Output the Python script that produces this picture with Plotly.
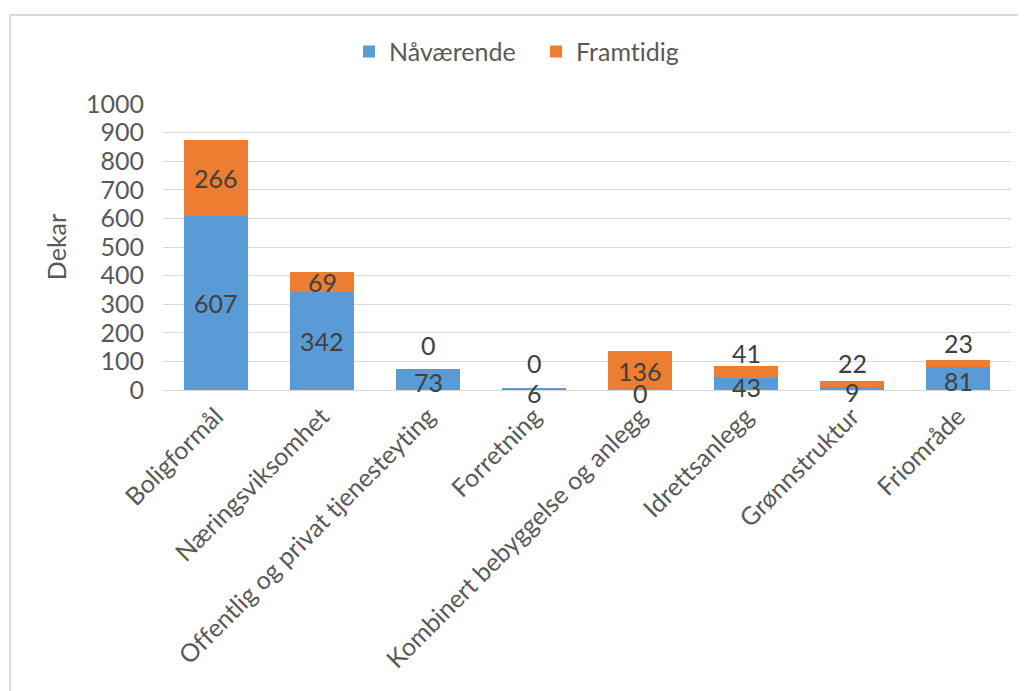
import plotly.graph_objects as go

# data
kategorier = ["Boligformål", "Næringsviksomhet", "Offentlig og privat tjenesteyting",
              "Forretning", "Kombinert bebyggelse og anlegg", "Idrettsanlegg",
              "Grønnstruktur", "Friområde"]
naavaerende = [607, 342, 73, 6, 0, 43, 9, 81]
framtidig = [266, 69, 0, 0, 136, 41, 22, 23]

# manual label nudges (pixels) like in the original excel chart
fram_shift = [0, 0, 24, 25, 0, 19, 21, 21]
naa_shift = [0, 0, -2, -4, -3, -3, -3, -3]

blaa = "#5B9BD5"
oransje = "#ED7D31"
font = "Lato"
fs = 25


def nolig(s):
    # Lato draws "ti" as a ligature, switch that off
    return "<span style='font-variant-ligatures:none'>" + s + "</span>"


fig = go.Figure()
fig.add_trace(go.Bar(x=kategorier, y=naavaerende, name="Nåværende",
                     marker_color=blaa, marker_line_width=0))
fig.add_trace(go.Bar(x=kategorier, y=framtidig, name=nolig("Framtidig"),
                     marker_color=oransje, marker_line_width=0))

# data labels
for i, k in enumerate(kategorier):
    fig.add_annotation(x=k, y=naavaerende[i] / 2, text=str(naavaerende[i]),
                       showarrow=False, yshift=naa_shift[i],
                       font=dict(family=font, size=fs, color="#404040"))
    fig.add_annotation(x=k, y=naavaerende[i] + framtidig[i] / 2, text=str(framtidig[i]),
                       showarrow=False, yshift=fram_shift[i],
                       font=dict(family=font, size=fs, color="#404040"))

# chart border (top and left visible)
fig.add_shape(type="rect", xref="paper", yref="paper",
              x0=-0.1804, x1=1.05, y0=-1.2, y1=1.311,
              line=dict(color="#D9D9D9", width=2))

fig.update_layout(
    barmode="stack",
    bargap=0.4,
    width=1018, height=683,
    margin=dict(l=155, r=15, t=96, b=301, autoexpand=False),
    paper_bgcolor="white", plot_bgcolor="white",
    font=dict(family=font, size=fs, color="#595959"),
    showlegend=True,
    legend=dict(orientation="h", xref="container", yref="container",
                x=0.335, y=0.936, xanchor="left", yanchor="middle",
                font=dict(size=fs, color="#595959"), itemwidth=30,
                entrywidth=142, traceorder="normal"),
)
fig.update_yaxes(range=[0, 1000], dtick=100, showgrid=True, gridcolor="#D9D9D9",
                 gridwidth=1, zeroline=True, zerolinecolor="#D9D9D9", zerolinewidth=1,
                 ticks="", ticklabelstandoff=18, automargin=False,
                 title=dict(text="Dekar", standoff=12, font=dict(size=fs, color="#595959")))
fig.update_xaxes(tickangle=-45, ticks="", showline=False, ticklabelstandoff=6,
                 automargin=False, tickvals=kategorier,
                 ticktext=[nolig(k) for k in kategorier])

fig.write_html("out.html")
